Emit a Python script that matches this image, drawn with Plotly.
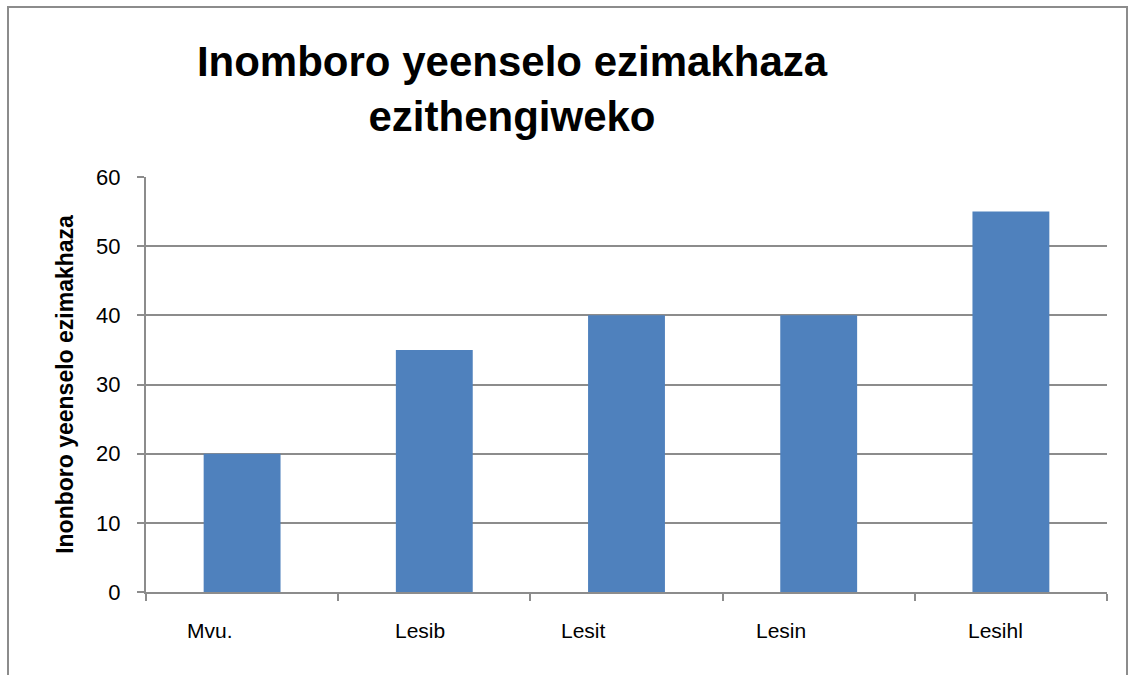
import plotly.graph_objects as go

categories = ["Mvu.", "Lesib", "Lesit", "Lesin", "Lesihl"]
values = [20, 35, 40, 40, 55]
label_shift = [-32, -14, -43, -38, -15]

title_text = "Inomboro yeenselo ezimakhaza<br>ezithengiweko"
ytitle = "Inonboro yeenselo ezimakhaza"

FONT = "Liberation Sans, Arial, sans-serif"
GRID = "#8c8c8c"

W, H = 1130, 675
L, R, T, B = 146, 23, 177, 83
pw, ph = W - L - R, H - T - B

fig = go.Figure(go.Bar(x=categories, y=values, marker=dict(color="#4F81BD", line=dict(width=0)), width=0.4))

annotations = []
for c, s in zip(categories, label_shift):
    annotations.append(dict(x=c, y=0, xref="x", yref="y", text=c, showarrow=False,
                            xshift=s, yshift=-38, yanchor="middle",
                            font=dict(family=FONT, size=21, color="#000")))

fig.update_layout(
    width=W, height=H,
    margin=dict(l=L, r=R, t=T, b=B),
    paper_bgcolor="white", plot_bgcolor="white",
    showlegend=False,
    title=dict(text=title_text, x=(512 - L) / pw, xref="paper", xanchor="center",
               y=1 - 76 / H, yanchor="top",
               font=dict(family=FONT, size=42, color="#000", weight="bold")),
    xaxis=dict(showticklabels=False, showgrid=False, showline=True, linecolor=GRID, linewidth=2,
               ticks="outside", ticklen=7, tickcolor=GRID, tickwidth=1.5, tickson="boundaries"),
    yaxis=dict(range=[0, 60], dtick=10, showgrid=True, gridcolor=GRID, gridwidth=2,
               showline=True, linecolor=GRID, linewidth=2, ticks="outside", ticklen=7,
               tickcolor=GRID, tickwidth=1.5, zeroline=False, ticklabelstandoff=12,
               tickfont=dict(family=FONT, size=22, color="#000"),
               title=dict(text=ytitle, standoff=16,
                          font=dict(family=FONT, size=23, color="#000", weight="bold"))),
    annotations=annotations,
    shapes=[dict(type="rect", xref="paper", yref="paper",
                 x0=(8 - L) / pw, x1=(1127 - L) / pw,
                 y0=(H - B - 700) / ph, y1=(H - B - 7) / ph,
                 line=dict(color=GRID, width=2), fillcolor="rgba(0,0,0,0)", layer="below")],
)

fig.write_html("out.html", config={"displayModeBar": False},
               post_script="document.body.style.margin='0';document.body.style.overflow='hidden';")
